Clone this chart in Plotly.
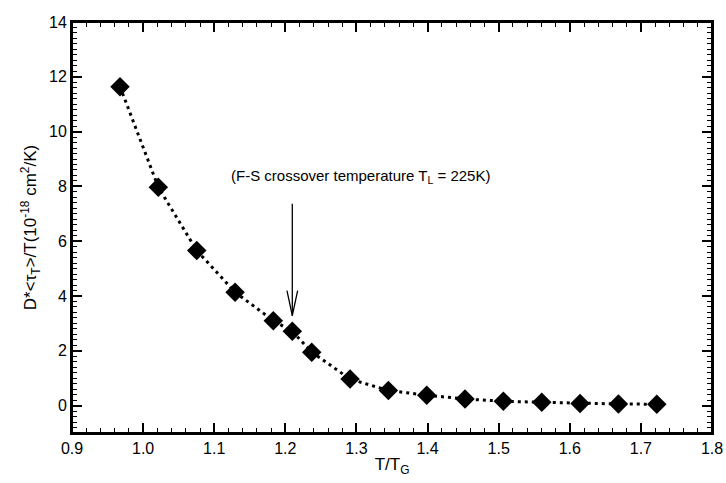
import plotly.graph_objects as go

# Data
t_ratio = [0.9675, 1.0214, 1.0754, 1.1293, 1.1831, 1.2098, 1.2371, 1.2910,
           1.3449, 1.3989, 1.4527, 1.5066, 1.5606, 1.6145, 1.6684, 1.7224]
d_tau = [11.64, 7.97, 5.66, 4.14, 3.10, 2.71, 1.95, 0.97,
         0.55, 0.38, 0.24, 0.16, 0.12, 0.08, 0.06, 0.05]

x_ticks = [0.9, 1.0, 1.1, 1.2, 1.3, 1.4, 1.5, 1.6, 1.7, 1.8]
y_ticks = [0, 2, 4, 6, 8, 10, 12, 14]
x_range = [0.9, 1.8]
y_range = [-1, 14]
x_minor = [round(0.9 + 0.02 * i, 3) for i in range(46)]
y_minor = [round(-1 + 0.2 * i, 2) for i in range(76)]

arrow_x = 1.2098
arrow_top = 7.37
arrow_tip = 3.28
barb_dx = 0.0075
barb_y = 4.2

label_x = 1.305
label_y = 8.35

FONT = "Liberation Sans, Arial, Helvetica, sans-serif"

fig = go.Figure()
fig.add_trace(go.Scatter(
    x=t_ratio, y=d_tau, mode="lines+markers",
    line=dict(color="black", width=3, dash="3px,4px"),
    marker=dict(symbol="diamond", size=15, color="black"),
    showlegend=False, hoverinfo="skip"))

# arrow shaft and open arrowhead
fig.add_trace(go.Scatter(
    x=[arrow_x, arrow_x], y=[arrow_top, arrow_tip], mode="lines",
    line=dict(color="black", width=1.3), showlegend=False, hoverinfo="skip"))
fig.add_trace(go.Scatter(
    x=[arrow_x - barb_dx, arrow_x, arrow_x + barb_dx], y=[barb_y, arrow_tip, barb_y],
    mode="lines", line=dict(color="black", width=1.3), showlegend=False, hoverinfo="skip"))

# empty trace registering the overlay axes used for minor ticks
fig.add_trace(go.Scatter(x=[None], y=[None], xaxis="x2", yaxis="y2",
                         mode="markers", showlegend=False, hoverinfo="skip"))

fig.add_annotation(
    x=label_x, y=label_y, xref="x", yref="y", showarrow=False,
    text="(F-S crossover temperature T<sub>L</sub> = 225K)",
    font=dict(family=FONT, size=15, color="black"))

# plot frame
fig.add_shape(type="rect", xref="paper", yref="paper", x0=0, y0=0, x1=1, y1=1,
              line=dict(color="black", width=2), layer="above")

axis_common = dict(
    showline=True, linecolor="black", linewidth=2, mirror="allticks",
    ticks="inside", ticklen=10, tickwidth=1.6, tickcolor="black",
    showgrid=False, zeroline=False, automargin=False,
    tickfont=dict(family=FONT, size=16, color="black"),
)
minor_common = dict(
    showline=False, mirror="allticks", ticks="inside", ticklen=5, tickwidth=1.3,
    tickcolor="black", showgrid=False, zeroline=False, showticklabels=False,
    automargin=False,
)

fig.update_layout(
    template="none",
    width=726, height=483,
    margin=dict(l=72, r=14, t=22, b=50),
    paper_bgcolor="white", plot_bgcolor="white",
    font=dict(family=FONT, color="black"),
    xaxis=dict(
        range=x_range, tickvals=x_ticks, ticktext=[f"{v:.1f}" for v in x_ticks],
        title=dict(text="T/T<sub>G</sub>", font=dict(family=FONT, size=17, color="black"), standoff=2),
        **axis_common),
    yaxis=dict(
        range=y_range, tickvals=y_ticks, ticktext=[str(v) for v in y_ticks],
        title=dict(text="D*&lt;τ<sub>T</sub>&gt;/T(10<sup>-18</sup> cm<sup>2</sup>/K)",
                   font=dict(family=FONT, size=17, color="black"), standoff=8),
        **axis_common),
    xaxis2=dict(range=x_range, tickvals=x_minor, overlaying="x", anchor="y2", side="bottom", **minor_common),
    yaxis2=dict(range=y_range, tickvals=y_minor, overlaying="y", anchor="x2", side="left", **minor_common),
)

fig.write_html("out.html")
